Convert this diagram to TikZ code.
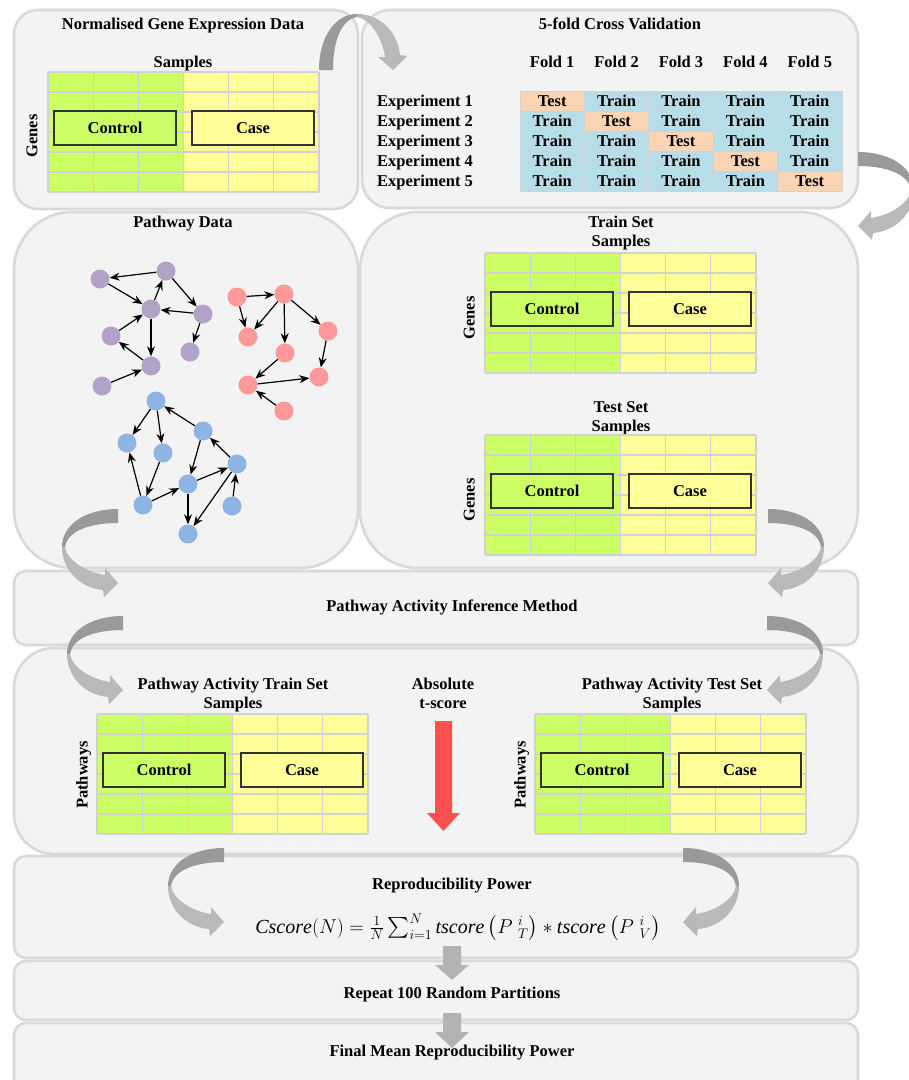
\documentclass[tikz,border=0pt]{standalone}
\usepackage{fix-cm}
\usepackage{exscale}
\usepackage{fontspec}
\setmainfont{Liberation Serif}
\usetikzlibrary{arrows.meta}

\definecolor{panelfill}{HTML}{F3F3F3}
\definecolor{panelline}{HTML}{D9D9D9}
\definecolor{ctrlgreen}{HTML}{CCFF66}
\definecolor{caseyellow}{HTML}{FFFF99}
\definecolor{gridline}{HTML}{D2D2D2}
\definecolor{trainblue}{HTML}{B7DEE8}
\definecolor{testpeach}{HTML}{FBD4B4}
\definecolor{arrowdark}{HTML}{9A9A9A}
\definecolor{arrowlight}{HTML}{B9B9B9}
\definecolor{straightgray}{HTML}{B3B3B3}
\definecolor{tred}{HTML}{FF5050}
\definecolor{gpurple}{HTML}{B3A2C7}
\definecolor{gred}{HTML}{FF9999}
\definecolor{gblue}{HTML}{8DB4E2}

\tikzset{
  panel/.style={draw=panelline, fill=panelfill, line width=2.6pt},
  lbl/.style={font=\fontsize{16.5}{19}\selectfont\bfseries, inner sep=0pt,
              text height=11pt, text depth=0pt},
  groupbox/.style={lbl, draw=black!80, line width=1.1pt,
              minimum width=122pt, minimum height=34pt},
  cell/.style={lbl, draw=gridline, line width=1pt,
              minimum width=64.4pt, minimum height=20pt},
  gnode/.style={circle, minimum size=19pt, inner sep=0pt},
  link/.style={-{Stealth[length=10pt,width=8pt]}, line width=1.2pt, black},
  curvearrow/.pic={
    \fill[arrowdark] (0,0) .. controls (-33,0) and (-56,16) .. (-56,38)
      -- (-53,38) .. controls (-51,23) and (-30,14) .. (0,14) -- cycle;
    \fill[arrowlight] (-56,38) .. controls (-56,61) and (-38,79) .. (-15,81)
      -- (-14,88) -- (0,74) -- (-13,59) -- (-13,66)
      .. controls (-33,63) and (-51,51) .. (-53,38) -- cycle;
  }
}

% 6x6 expression grid: green control half, yellow case half, two group boxes
\newcommand\exprgrid[3]{%
  \begin{scope}[shift={(#1,#2)}]
    \fill[ctrlgreen] (0,0) rectangle (135.5,120);
    \fill[caseyellow] (135.5,0) rectangle (271,120);
    \foreach \i in {0,...,6} \draw[gridline, line width=1.3pt] ({\i*271/6},0) -- ({\i*271/6},120);
    \foreach \j in {0,...,6} \draw[gridline, line width=1.3pt] (0,{\j*20}) -- (271,{\j*20});
    \node[groupbox, fill=ctrlgreen] (#3ctrl) at (67,56) {Control};
    \node[groupbox, fill=caseyellow] (#3case) at (205,56) {Case};
  \end{scope}}

\begin{document}
\begin{tikzpicture}[x=1pt, y=-1pt]
\useasboundingbox (0,0) rectangle (909,1080);
\clip (0,0) rectangle (909,1080);
\fill[white] (0,0) rectangle (909,1080);

% ---- panels ----
\draw[panel, rounded corners=24pt] (14,10) rectangle (358,209);
\draw[panel, rounded corners=28pt] (362,10) rectangle (858,208);
\draw[panel, rounded corners=58pt] (14,212) rectangle (358,568);
\draw[panel, rounded corners=58pt] (360,212) rectangle (858,568);
\draw[panel, rounded corners=12pt] (14,571) rectangle (858,645);
\draw[panel, rounded corners=40pt] (14,648) rectangle (858,854);
\draw[panel, rounded corners=12pt] (14,856) rectangle (858,958);
\draw[panel, rounded corners=12pt] (14,961) rectangle (858,1020);
\draw[panel, rounded corners=12pt] (14,1023) rectangle (858,1110);

% ---- normalised gene expression data ----
\node[lbl] (t1) at (183,24) {Normalised Gene Expression Data};
\node[lbl] (s1) at (183,62) {Samples};
\node[lbl, rotate=90] (g1) at (32,136) {Genes};
\exprgrid{48}{72}{ge}

% ---- cross validation ----
\node[lbl] (t2) at (620,24) {5-fold Cross Validation};
\foreach \c in {1,...,5}
  \node[lbl] (fold\c) at ({520+64.4*(\c-0.5)},62) {Fold \c};
\foreach \r in {1,...,5} {
  \node[lbl, anchor=west] (exp\r) at (377,{91+20*(\r-0.5)}) {Experiment \r};
  \foreach \c in {1,...,5} {
    \ifnum\r=\c
      \node[cell, fill=testpeach] (cv\r\c) at ({520+64.4*(\c-0.5)},{91+20*(\r-0.5)}) {Test};
    \else
      \node[cell, fill=trainblue] (cv\r\c) at ({520+64.4*(\c-0.5)},{91+20*(\r-0.5)}) {Train};
    \fi
  }
}

% ---- pathway data ----
\node[lbl] (t3) at (183,222) {Pathway Data};
\begin{scope}[every node/.append style={gnode}]
  \node[fill=gpurple] (p1) at (100,279) {};
  \node[fill=gpurple] (p2) at (166,271) {};
  \node[fill=gpurple] (p3) at (151,309) {};
  \node[fill=gpurple] (p4) at (203,314) {};
  \node[fill=gpurple] (p5) at (111,336) {};
  \node[fill=gpurple] (p6) at (190,352) {};
  \node[fill=gpurple] (p7) at (151,366) {};
  \node[fill=gpurple] (p8) at (102,386) {};
  \node[fill=gred] (r1) at (237,297) {};
  \node[fill=gred] (r2) at (284,294) {};
  \node[fill=gred] (r3) at (248,337) {};
  \node[fill=gred] (r4) at (328,331) {};
  \node[fill=gred] (r5) at (285,353) {};
  \node[fill=gred] (r6) at (319,377) {};
  \node[fill=gred] (r7) at (248,385) {};
  \node[fill=gred] (r8) at (284,411) {};
  \node[fill=gblue] (b1) at (156,401) {};
  \node[fill=gblue] (b2) at (127,443) {};
  \node[fill=gblue] (b3) at (163,453) {};
  \node[fill=gblue] (b4) at (203,431) {};
  \node[fill=gblue] (b5) at (237,464) {};
  \node[fill=gblue] (b6) at (188,484) {};
  \node[fill=gblue] (b7) at (143,505) {};
  \node[fill=gblue] (b8) at (232,506) {};
  \node[fill=gblue] (b9) at (188,534) {};
\end{scope}
\draw[link] (p2) -- (p1);
\draw[link] (p1) -- (p3);
\draw[link] (p3) -- (p2);
\draw[link] (p2) -- (p4);
\draw[link] (p4) -- (p3);
\draw[link] (p5) -- (p3);
\draw[link] (p3) -- (p7);
\draw[link] (p7) -- (p5);
\draw[link] (p4) -- (p6);
\draw[link] (p8) -- (p7);
\draw[link] (r1) -- (r2);
\draw[link] (r1) -- (r3);
\draw[link] (r2) -- (r3);
\draw[link] (r2) -- (r5);
\draw[link] (r2) -- (r4);
\draw[link] (r4) -- (r6);
\draw[link] (r5) -- (r7);
\draw[link] (r7) -- (r6);
\draw[link] (r8) -- (r7);
\draw[link] (b1) -- (b2);
\draw[link] (b1) -- (b3);
\draw[link] (b4) -- (b1);
\draw[link] (b4) -- (b6);
\draw[link] (b5) -- (b4);
\draw[link] (b6) -- (b5);
\draw[link] (b3) -- (b7);
\draw[link] (b7) -- (b2);
\draw[link] (b7) -- (b6);
\draw[link] (b6) -- (b9);
\draw[link] (b5) -- (b9);
\draw[link] (b8) -- (b5);

% ---- train / test split ----
\node[lbl] (t4) at (621,222) {Train Set};
\node[lbl] (s4) at (621,241) {Samples};
\node[lbl, rotate=90] (g4) at (469,318) {Genes};
\exprgrid{485}{253}{tr}
\node[lbl] (t5) at (621,407) {Test Set};
\node[lbl] (s5) at (621,426) {Samples};
\node[lbl, rotate=90] (g5) at (469,500) {Genes};
\exprgrid{485}{435}{te}

% ---- inference ----
\node[lbl] (inf) at (452,606) {Pathway Activity Inference Method};

% ---- pathway activity sets ----
\node[lbl] (t6) at (233,684) {Pathway Activity Train Set};
\node[lbl] (s6) at (233,703) {Samples};
\node[lbl, rotate=90] (g6) at (82,775) {Pathways};
\exprgrid{97}{714}{patr}
\node[lbl] (t7) at (672,684) {Pathway Activity Test Set};
\node[lbl] (s7) at (672,703) {Samples};
\node[lbl, rotate=90] (g7) at (520,775) {Pathways};
\exprgrid{535}{714}{pate}
\node[lbl] (abs) at (443,684) {Absolute};
\node[lbl] (tsc) at (443,703) {t-score};
\fill[tred] (435,721) -- (452,721) -- (452,813) -- (460,813) -- (443.5,831)
  -- (427,813) -- (435,813) -- cycle;

% ---- reproducibility ----
\node[lbl] (t8) at (452,884) {Reproducibility Power};
\node (formula) at (458,927) {\fontsize{20}{24}\selectfont
  $\mathit{Cscore}(N)=\frac{1}{N}\sum_{i=1}^{N}\mathit{tscore}\left(P\;{}^{i}_{T}\right)\ast\mathit{tscore}\left(P\;{}^{i}_{V}\right)$};
\node[lbl] (t9) at (452,993) {Repeat 100 Random Partitions};
\node[lbl] (t10) at (452,1051) {Final Mean Reproducibility Power};

% ---- straight down arrows ----
\fill[straightgray] (443,946) -- (461,946) -- (461,965) -- (469,965) -- (452,980)
  -- (435,965) -- (443,965) -- cycle;
\fill[straightgray] (443,1013) -- (461,1013) -- (461,1032) -- (469,1032) -- (452,1048)
  -- (435,1032) -- (443,1032) -- cycle;

% ---- curved flow arrows ----
\pic[shift={(319,70)}, cm={0,-1,-1,0,(0,0)}] {curvearrow};
\pic[shift={(858,152)}, xscale=-1] {curvearrow};
\pic[shift={(118,509)}] {curvearrow};
\pic[shift={(768,509)}, xscale=-1] {curvearrow};
\pic[shift={(123,616)}] {curvearrow};
\pic[shift={(767,616)}, xscale=-1] {curvearrow};
\pic[shift={(224,848)}] {curvearrow};
\pic[shift={(683,848)}, xscale=-1] {curvearrow};
\end{tikzpicture}
\end{document}
